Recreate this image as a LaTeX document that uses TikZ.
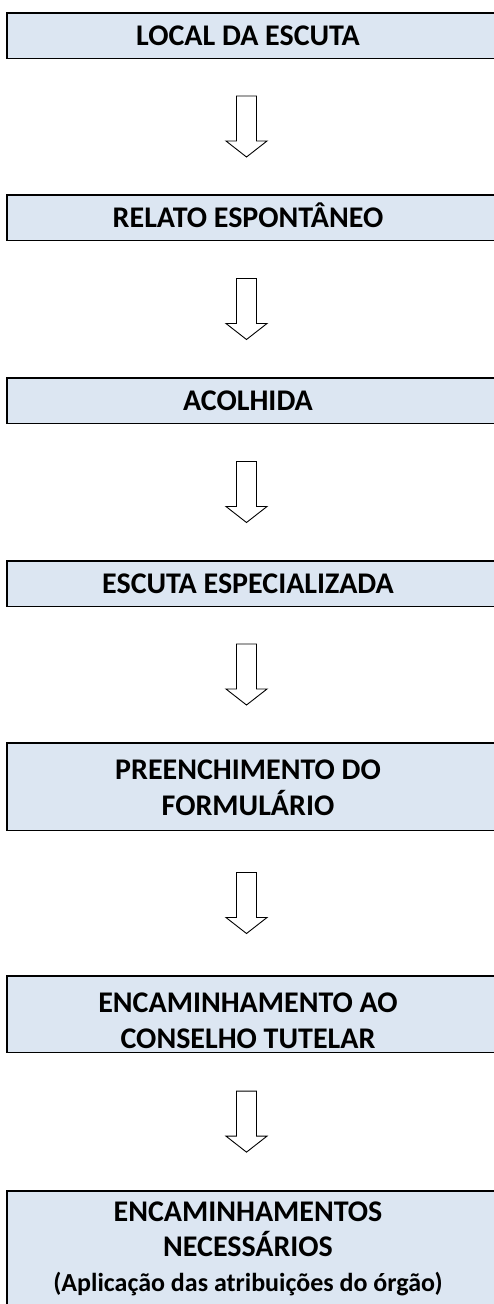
\documentclass[tikz,border=0pt]{standalone}
\usepackage{fontspec}
\setmainfont{Carlito}
\definecolor{boxfill}{HTML}{DCE6F2}
\tikzset{
  stepbox/.style={draw=black, line width=1.5pt, fill=boxfill, rectangle, inner sep=0pt, minimum width=495pt},
  steptext/.style={anchor=base, inner sep=0pt, font=\fontsize{30}{34}\selectfont\bfseries},
  subtext/.style={anchor=base, inner sep=0pt, font=\fontsize{26}{30}\selectfont\bfseries},
  blockarrow/.style={draw=black, line width=0.9pt, fill=white, line join=miter}
}
\newcommand{\blockarr}[1]{%
  \draw[blockarrow] ([xshift=-10pt,yshift=30.5pt]#1) -- ([xshift=10pt,yshift=30.5pt]#1)
    -- ([xshift=10pt,yshift=-14.5pt]#1) -- ([xshift=20.5pt,yshift=-14.5pt]#1)
    -- ([yshift=-30.5pt]#1) -- ([xshift=-20.5pt,yshift=-14.5pt]#1)
    -- ([xshift=-10pt,yshift=-14.5pt]#1) -- cycle;}
\begin{document}
\begin{tikzpicture}[x=1pt,y=-1pt]
\useasboundingbox (0,0) rectangle (494,1304);
\clip (0,0) rectangle (494,1304);
\fill[white] (0,0) rectangle (494,1304);
% boxes (line centres)
\node[stepbox, minimum height=45.5pt] (b1) at (254.25,35.5) {};
\node[stepbox, minimum height=45.5pt] (b2) at (254.25,217.5) {};
\node[stepbox, minimum height=45.5pt] (b3) at (254.25,400.5) {};
\node[stepbox, minimum height=45.5pt] (b4) at (254.25,583.5) {};
\node[stepbox, minimum height=87.5pt] (b5) at (254.25,786.5) {};
\node[stepbox, minimum height=76.5pt] (b6) at (254.25,1014) {};
\node[stepbox, minimum height=130pt] (b7) at (254.25,1256) {};
% texts
\node[steptext] (t1) at (248,45) {LOCAL DA ESCUTA};
\node[steptext] (t2) at (248,227) {RELATO ESPONTÂNEO};
\node[steptext] (t3) at (248,410) {ACOLHIDA};
\node[steptext] (t4) at (248,593) {ESCUTA ESPECIALIZADA};
\node[steptext] (t5a) at (248,779.5) {PREENCHIMENTO DO};
\node[steptext] (t5b) at (248,815.5) {FORMULÁRIO};
\node[steptext] (t6a) at (248,1012.5) {ENCAMINHAMENTO AO};
\node[steptext] (t6b) at (248,1048) {CONSELHO TUTELAR};
\node[steptext] (t7a) at (248,1221.5) {ENCAMINHAMENTOS};
\node[steptext] (t7b) at (248,1256.5) {NECESSÁRIOS};
\node[subtext] (t7c) at (248,1291) {(Aplicação das atribuições do órgão)};
% arrows
\foreach \a/\b/\n in {b1/b2/1,b2/b3/2,b3/b4/3,b4/b5/4,b5/b6/5,b6/b7/6}{
  \path (\a.south) -- (\b.north) coordinate[pos=0.5] (m\n);
}
\foreach \n in {1,...,6}{
  \coordinate (c\n) at ([xshift=-7.75pt]m\n);
  \blockarr{c\n}
}
\end{tikzpicture}
\end{document}
